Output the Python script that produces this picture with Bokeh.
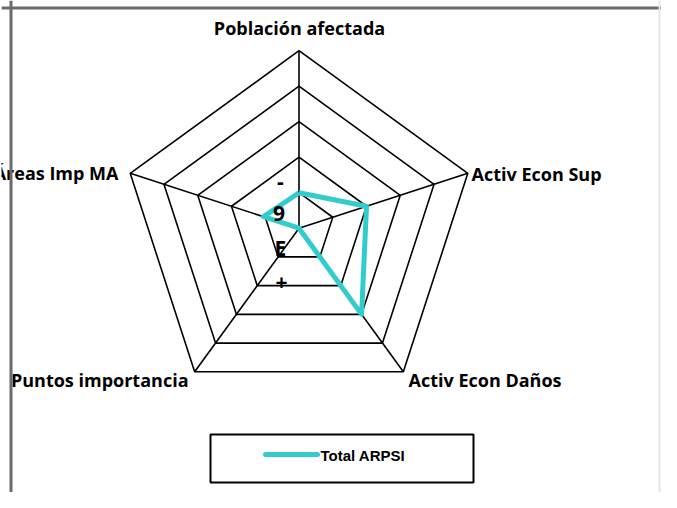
import math
from bokeh.plotting import figure
from bokeh.models import Range1d, Span
from bokeh.core.properties import value
from bokeh.embed import file_html
from bokeh.resources import INLINE

# ---- data ----
categories = ["Población afectada", "Activ Econ Sup", "Activ Econ Daños",
              "Puntos importancia", "Áreas Imp MA"]
series_name = "Total ARPSI"
series_values = [1.0, 2.0, 3.0, 0.0, 1.05]
ring_levels = [1, 2, 3, 4, 5]
tick_labels = ["-", "9", "E", "+"]

TEAL = "#33CCCC"

# ---- layout helpers (picture pixel -> data units; 1 unit = one ring) ----
PX = 35.5
CX, CY = 298.5, 227.7
OFF = 0  # canvas offset within the picture


def dx(px):
    return (px - CX) / PX


def dy(py):
    return (CY - py) / PX


W, H = 661, 492
p = figure(width=W, height=H, output_backend="svg", toolbar_location=None,
           x_range=Range1d(dx(OFF + 1), dx(OFF + W)), y_range=Range1d(dy(OFF + H), dy(OFF)),
           x_axis_type=None, y_axis_type=None,
           min_border_left=1, min_border_right=0, min_border_top=0, min_border_bottom=0)
p.grid.visible = False
p.outline_line_color = None
p.background_fill_color = "white"
p.border_fill_color = "white"

n = len(categories)
angles = [math.radians(90 - 360.0 / n * i) for i in range(n)]

# rings
for r in ring_levels:
    xs = [r * math.cos(a) for a in angles] + [r * math.cos(angles[0])]
    ys = [r * math.sin(a) for a in angles] + [r * math.sin(angles[0])]
    p.line(xs, ys, line_color="black", line_width=1.6)

# spokes
rmax = max(ring_levels)
p.segment(x0=[0] * n, y0=[0] * n,
          x1=[rmax * math.cos(a) for a in angles],
          y1=[rmax * math.sin(a) for a in angles],
          line_color="black", line_width=1.6)

# series
sx = [v * math.cos(a) for v, a in zip(series_values, angles)]
sy = [v * math.sin(a) for v, a in zip(series_values, angles)]
p.line(sx + [sx[0]], sy + [sy[0]], line_color=TEAL, line_width=5, line_join="round")

# tick labels (as rendered in the original)
tick_pos = [(280, 181), (278.5, 213), (280, 247), (281, 282)]
p.text(x=[dx(a) for a, b in tick_pos], y=[dy(b) for a, b in tick_pos], text=tick_labels,
       text_font=value("Open Sans"), text_font_style="bold", text_font_size="21px",
       text_align="center", text_baseline="middle", text_color="black")

# category labels
lab_pos = [(299, 27, "center"), (471, 173, "left"), (408, 379, "left"),
           (188, 379, "right"), (118, 172, "right")]
for (xp, yp, al), txt in zip(lab_pos, categories):
    p.text(x=[dx(xp)], y=[dy(yp)], text=[txt], text_font=value("Open Sans"),
           text_font_style="bold", text_font_size="18px", text_align=al,
           text_baseline="middle", text_color="black")

# legend box
p.quad(left=[dx(210)], right=[dx(473)], top=[dy(434)], bottom=[dy(482)],
       fill_color="white", line_color="black", line_width=2)
p.line([dx(265), dx(317)], [dy(454), dy(454)], line_color=TEAL, line_width=5,
       line_cap="round")
p.text(x=[dx(320)], y=[dy(455)], text=[series_name], text_font=value("Liberation Sans"),
       text_font_style="bold", text_font_size="15px", text_align="left",
       text_baseline="middle", text_color="black")

# chart-area border lines
p.add_layout(Span(location=dx(10.5), dimension="height", line_color="#6b6b6b", line_width=3))
p.add_layout(Span(location=dy(7.5), dimension="width", line_color="#6b6b6b", line_width=3))
p.add_layout(Span(location=dx(659), dimension="height", line_color="#e6e6e6", line_width=2))

open("out.html", "w").write(file_html(p, INLINE))
